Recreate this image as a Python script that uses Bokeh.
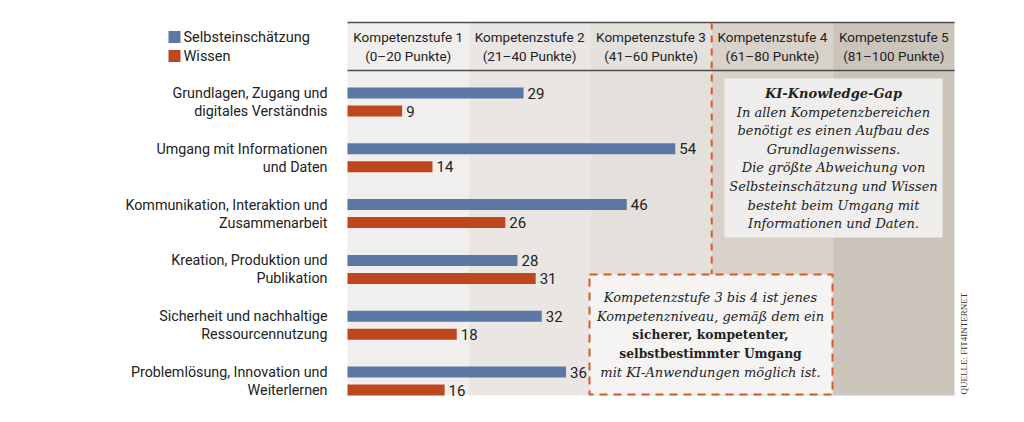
from math import pi
from bokeh.plotting import figure
from bokeh.models import Range1d
from bokeh.core.properties import value
from bokeh.embed import file_html
from bokeh.resources import INLINE

# ---------------- data ----------------
categories_line1 = ["Grundlagen, Zugang und", "Umgang mit Informationen",
                    "Kommunikation, Interaktion und", "Kreation, Produktion und",
                    "Sicherheit und nachhaltige", "Problemlösung, Innovation und"]
categories_line2 = ["digitales Verständnis", "und Daten", "Zusammenarbeit",
                    "Publikation", "Ressourcennutzung", "Weiterlernen"]
selbst = [29, 54, 46, 28, 32, 36]
wissen = [9, 14, 26, 31, 18, 16]
stufen_line1 = ["Kompetenzstufe 1", "Kompetenzstufe 2", "Kompetenzstufe 3",
                "Kompetenzstufe 4", "Kompetenzstufe 5"]
stufen_line2 = ["(0–20 Punkte)", "(21–40 Punkte)", "(41–60 Punkte)",
                "(61–80 Punkte)", "(81–100 Punkte)"]
stufen_start = [0, 20, 40, 60, 80]
stufen_end = [20, 40, 60, 80, 100]
legend_labels = ["Selbsteinschätzung", "Wissen"]
gap_title = "KI-Knowledge-Gap"
gap_lines = ["In allen Kompetenzbereichen", "benötigt es einen Aufbau des",
             "Grundlagenwissens.", "Die größte Abweichung von",
             "Selbsteinschätzung und Wissen", "besteht beim Umgang mit",
             "Informationen und Daten."]
note_lines_it1 = ["Kompetenzstufe 3 bis 4 ist jenes", "Kompetenzniveau, gemäß dem ein"]
note_lines_bold = ["sicherer, kompetenter,", "selbstbestimmter Umgang"]
note_lines_it2 = ["mit KI-Anwendungen möglich ist."]
source = "QUELLE: FIT4INTERNET"

# ---------------- style ----------------
BLUE = "#5b78a4"
ORANGE = "#bf471d"
DASH = "#d9582c"
TXT = "#222222"
BAND_COLORS = ["#f1efed", "#e9e6e3", "#e4e0db", "#d8d2ca", "#cbc4ba"]
SANS = "Roboto"
SERIF = "DejaVu Serif"

W, H = 1008, 406
PX0, PXPT = 347.0, 6.07   # screen x of value 0, px per point
X0 = -PX0 / PXPT
X1 = X0 + W / PXPT


def px(xs):
    return (xs - PX0) / PXPT


p = figure(width=W, height=H, x_range=Range1d(X0, X1), y_range=Range1d(H, 0),
           x_axis_type=None, y_axis_type=None, output_backend="svg",
           toolbar_location=None, min_border=0)
p.grid.visible = False
p.outline_line_color = None
p.background_fill_color = "white"
p.border_fill_color = "white"

TOP, HEAD_BOT, BOT = 22, 70, 395

# bands
p.quad(left=stufen_start, right=stufen_end, top=TOP, bottom=BOT,
       fill_color=BAND_COLORS, line_color=None)
# header lines
p.segment(x0=[0, 0], x1=[100, 100], y0=[TOP, HEAD_BOT], y1=[TOP, HEAD_BOT],
          line_color="#4d4d4d", line_width=1.5)
# header texts
mid = [(a + b) / 2 for a, b in zip(stufen_start, stufen_end)]
p.text(x=mid, y=[36.5] * 5, text=stufen_line1, text_align="center",
       text_baseline="middle", text_font=value(SANS), text_font_size="13.5px",
       text_color=TXT)
p.text(x=mid, y=[55.5] * 5, text=stufen_line2, text_align="center",
       text_baseline="middle", text_font=value(SANS), text_font_size="13.5px",
       text_color=TXT)

# bars
n = len(selbst)
y_blue = [92.5 + i * 55.8 for i in range(n)]
y_or = [y + 18 for y in y_blue]
p.hbar(y=y_blue, left=0, right=selbst, height=11, fill_color=BLUE, line_color=None)
p.hbar(y=y_or, left=0, right=wissen, height=11, fill_color=ORANGE, line_color=None)

off = 4 / PXPT
p.text(x=[v + off for v in selbst], y=y_blue, text=[str(v) for v in selbst],
       text_baseline="middle", text_font=value(SANS), text_font_size="15px",
       text_color=TXT)
p.text(x=[v + off for v in wissen], y=y_or, text=[str(v) for v in wissen],
       text_baseline="middle", text_font=value(SANS), text_font_size="15px",
       text_color=TXT)

# category labels
p.text(x=[px(327)] * n, y=y_blue, text=categories_line1, text_align="right",
       text_baseline="middle", text_font=value(SANS), text_font_size="14.3px",
       text_color=TXT)
p.text(x=[px(327)] * n, y=y_or, text=categories_line2, text_align="right",
       text_baseline="middle", text_font=value(SANS), text_font_size="14.3px",
       text_color=TXT)

# legend
p.rect(x=[px(174), px(174)], y=[36.5, 55.5], width=12 / PXPT, height=12,
       fill_color=[BLUE, ORANGE], line_color=None)
p.text(x=[px(183), px(183)], y=[36.5, 55.5], text=legend_labels,
       text_baseline="middle", text_font=value(SANS), text_font_size="14.5px",
       text_color=TXT)

# dashed vertical line
p.segment(x0=[60], x1=[60], y0=[TOP], y1=[274], line_color=DASH, line_width=2,
          line_dash="7 6")

# knowledge gap box
p.quad(left=[px(724)], right=[px(942)], top=[78], bottom=[237],
       fill_color="#efeeec", line_color=None)
cx1 = px(833)
p.text(x=[cx1], y=[92.5], text=[gap_title], text_align="center",
       text_baseline="middle", text_font=value(SERIF), text_font_size="13px",
       text_font_style="bold italic", text_color=TXT)
p.text(x=[cx1] * len(gap_lines), y=[111.5 + i * 18.6 for i in range(len(gap_lines))],
       text=gap_lines, text_align="center", text_baseline="middle",
       text_font=value(SERIF), text_font_size="13px", text_font_style="italic",
       text_color=TXT)

# note box
p.quad(left=[px(589)], right=[px(832)], top=[274], bottom=[394],
       fill_color="#f5f4f2", line_color=DASH, line_width=2, line_dash="8 6")
cx2 = px(710)
p.text(x=[cx2] * 2, y=[297, 315.5], text=note_lines_it1, text_align="center",
       text_baseline="middle", text_font=value(SERIF), text_font_size="13px",
       text_font_style="italic", text_color=TXT)
p.text(x=[cx2] * 2, y=[334, 352.5], text=note_lines_bold, text_align="center",
       text_baseline="middle", text_font=value(SERIF), text_font_size="12.3px",
       text_font_style="bold", text_color=TXT)
p.text(x=[cx2], y=[371.5], text=note_lines_it2, text_align="center",
       text_baseline="middle", text_font=value(SERIF), text_font_size="13px",
       text_font_style="italic", text_color=TXT)

# source
p.text(x=[px(963)], y=[394], text=[source], angle=pi / 2, text_align="left",
       text_baseline="middle", text_font=value("Liberation Serif"),
       text_font_size="9px", text_color="#333333")

open("out.html", "w").write(file_html(p, INLINE))
